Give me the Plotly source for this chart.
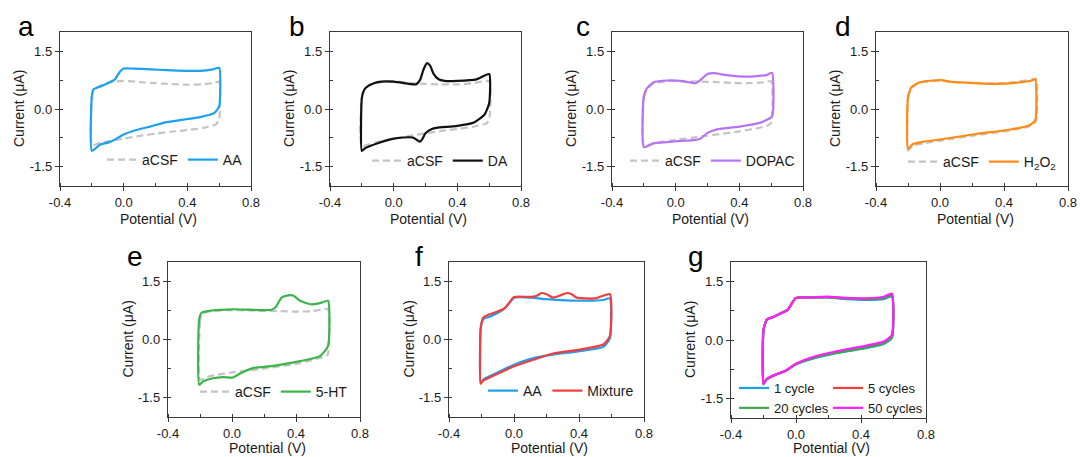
import plotly.graph_objects as go

# ---------------- data ----------------
x_tickvals = [-0.4, 0.0, 0.4, 0.8]
x_ticktext = ["-0.4", "0.0", "0.4", "0.8"]
y_tickvals = [-1.5, 0.0, 1.5]
y_ticktext = ["-1.5", "0.0", "1.5"]
panel_labels = ["a", "b", "c", "d", "e", "f", "g"]
x_title = "Potential (V)"
y_title = "Current (μA)"

# panel a
a_acsf_v = [-0.2, -0.2, -0.19, -0.16, -0.12, -0.06, 0.0, 0.1, 0.2, 0.3, 0.4, 0.5, 0.57, 0.6, 0.6, 0.58, 0.5, 0.4, 0.3, 0.2, 0.1, 0.0, -0.1, -0.15, -0.2]
a_acsf_i = [-0.95, 0.30, 0.48, 0.58, 0.66, 0.71, 0.73, 0.70, 0.67, 0.65, 0.63, 0.64, 0.68, 0.71, -0.27, -0.40, -0.49, -0.55, -0.59, -0.64, -0.70, -0.77, -0.84, -0.88, -0.95]
a_aa_v = [-0.2, -0.2, -0.19, -0.15, -0.09, -0.055, -0.025, 0.0, 0.06, 0.17, 0.27, 0.4, 0.48, 0.56, 0.6, 0.6, 0.57, 0.48, 0.4, 0.27, 0.17, 0.06, 0.0, -0.055, -0.09, -0.15, -0.2]
a_aa_i = [-1.09, 0.33, 0.51, 0.58, 0.69, 0.77, 0.96, 1.05, 1.05, 1.03, 1.01, 0.99, 0.99, 1.03, 1.07, 0.07, -0.10, -0.21, -0.26, -0.34, -0.45, -0.57, -0.66, -0.79, -0.86, -0.93, -1.09]

# panel b
b_acsf_v = [-0.2, -0.2, -0.18, -0.14, -0.08, 0.0, 0.1, 0.2, 0.3, 0.4, 0.5, 0.6, 0.6, 0.58, 0.5, 0.4, 0.3, 0.2, 0.1, 0.0, -0.1, -0.2]
b_acsf_i = [-0.95, 0.30, 0.52, 0.64, 0.70, 0.72, 0.68, 0.65, 0.64, 0.64, 0.67, 0.72, -0.28, -0.38, -0.46, -0.52, -0.57, -0.63, -0.70, -0.77, -0.85, -0.95]
b_da_v = [-0.2, -0.2, -0.185, -0.16, -0.1, 0.0, 0.1, 0.14, 0.165, 0.19, 0.21, 0.23, 0.25, 0.28, 0.32, 0.4, 0.52, 0.6, 0.6, 0.57, 0.5, 0.4, 0.27, 0.24, 0.2, 0.18, 0.165, 0.145, 0.12, 0.06, 0.0, -0.1, -0.18, -0.2]
b_da_i = [-1.09, 0.28, 0.50, 0.60, 0.70, 0.71, 0.65, 0.64, 0.75, 1.05, 1.19, 1.12, 0.92, 0.78, 0.73, 0.73, 0.77, 0.91, 0.15, -0.15, -0.36, -0.44, -0.49, -0.52, -0.63, -0.78, -0.85, -0.80, -0.74, -0.74, -0.77, -0.89, -1.02, -1.09]

# panel c
c_acsf_v = [-0.2, -0.2, -0.18, -0.14, -0.05, 0.05, 0.15, 0.25, 0.35, 0.45, 0.55, 0.6, 0.6, 0.57, 0.5, 0.4, 0.3, 0.2, 0.1, 0.0, -0.1, -0.2]
c_acsf_i = [-0.95, 0.30, 0.52, 0.66, 0.72, 0.72, 0.71, 0.70, 0.68, 0.67, 0.69, 0.72, -0.36, -0.44, -0.51, -0.58, -0.64, -0.69, -0.75, -0.80, -0.86, -0.95]
c_dopac_v = [-0.2, -0.2, -0.18, -0.14, -0.05, 0.03, 0.09, 0.125, 0.155, 0.2, 0.24, 0.32, 0.45, 0.57, 0.605, 0.605, 0.53, 0.41, 0.26, 0.2, 0.155, 0.115, 0.03, -0.05, -0.14, -0.2]
c_dopac_i = [-0.99, 0.33, 0.54, 0.69, 0.74, 0.73, 0.69, 0.67, 0.75, 0.91, 0.93, 0.88, 0.84, 0.88, 0.94, -0.19, -0.36, -0.45, -0.53, -0.62, -0.77, -0.81, -0.83, -0.86, -0.89, -0.99]

# panel d
d_acsf_v = [-0.2, -0.2, -0.18, -0.13, -0.045, 0.02, 0.1, 0.2, 0.35, 0.47, 0.57, 0.6, 0.6, 0.56, 0.43, 0.225, 0.02, -0.1, -0.17, -0.2]
d_acsf_i = [-1.08, 0.28, 0.54, 0.68, 0.73, 0.73, 0.70, 0.68, 0.66, 0.70, 0.76, 0.78, -0.32, -0.45, -0.56, -0.68, -0.81, -0.89, -0.95, -1.08]
d_h2o2_v = [-0.2, -0.2, -0.18, -0.13, -0.045, 0.01, 0.06, 0.18, 0.35, 0.47, 0.575, 0.595, 0.595, 0.555, 0.43, 0.225, 0.02, -0.105, -0.17, -0.2]
d_h2o2_i = [-1.04, 0.30, 0.56, 0.69, 0.74, 0.75, 0.71, 0.68, 0.65, 0.68, 0.74, 0.78, -0.30, -0.43, -0.54, -0.65, -0.78, -0.85, -0.91, -1.04]

# panel e
e_acsf_v = [-0.2, -0.2, -0.19, -0.12, 0.0, 0.1, 0.2, 0.3, 0.4, 0.5, 0.6, 0.6, 0.59, 0.425, 0.22, 0.0, -0.14, -0.2]
e_acsf_i = [-1.04, 0.45, 0.66, 0.74, 0.76, 0.75, 0.74, 0.73, 0.72, 0.73, 0.78, -0.38, -0.42, -0.61, -0.74, -0.85, -0.95, -1.04]
e_5ht_v = [-0.205, -0.205, -0.19, -0.12, 0.0, 0.11, 0.24, 0.27, 0.31, 0.35, 0.385, 0.425, 0.49, 0.55, 0.6, 0.6, 0.55, 0.425, 0.26, 0.13, 0.05, 0.005, -0.055, -0.12, -0.18, -0.205]
e_5ht_i = [-1.17, 0.52, 0.69, 0.75, 0.78, 0.77, 0.76, 0.82, 1.08, 1.14, 1.13, 1.0, 0.91, 0.94, 1.0, -0.17, -0.43, -0.56, -0.68, -0.74, -0.88, -0.98, -0.97, -1.0, -1.08, -1.17]

# panel f
f_aa_v = [-0.205, -0.205, -0.19, -0.15, -0.09, -0.057, -0.026, 0.0, 0.1, 0.2, 0.32, 0.45, 0.55, 0.59, 0.59, 0.55, 0.405, 0.24, 0.12, 0.0, -0.067, -0.13, -0.19, -0.205]
f_aa_i = [-1.13, 0.26, 0.52, 0.59, 0.71, 0.80, 0.95, 1.08, 1.08, 1.04, 1.01, 1.0, 1.02, 1.06, 0.03, -0.19, -0.30, -0.39, -0.48, -0.65, -0.78, -0.91, -1.04, -1.13]
f_mix_v = [-0.205, -0.205, -0.19, -0.15, -0.09, -0.057, -0.026, 0.0, 0.1, 0.14, 0.17, 0.2, 0.24, 0.28, 0.325, 0.355, 0.385, 0.5, 0.59, 0.59, 0.55, 0.405, 0.24, 0.12, 0.0, -0.067, -0.13, -0.19, -0.205]
f_mix_i = [-1.14, 0.30, 0.56, 0.65, 0.74, 0.81, 0.97, 1.10, 1.10, 1.13, 1.20, 1.17, 1.08, 1.13, 1.20, 1.17, 1.08, 1.06, 1.17, 0.09, -0.13, -0.26, -0.36, -0.52, -0.69, -0.82, -0.94, -1.06, -1.14]

# panel g
g_v = [-0.2, -0.2, -0.18, -0.14, -0.08, -0.05, -0.03, 0.0, 0.085, 0.19, 0.31, 0.435, 0.54, 0.59, 0.59, 0.54, 0.4, 0.235, 0.11, 0.0, -0.06, -0.12, -0.18, -0.2]
g_c1_i = [-1.13, 0.26, 0.52, 0.59, 0.71, 0.78, 0.91, 1.08, 1.09, 1.09, 1.05, 1.03, 1.05, 1.11, 0.05, -0.10, -0.23, -0.35, -0.47, -0.62, -0.78, -0.88, -1.0, -1.13]
g_c5_i = [-1.13, 0.26, 0.52, 0.59, 0.71, 0.78, 0.91, 1.08, 1.09, 1.10, 1.07, 1.05, 1.08, 1.15, 0.09, -0.07, -0.20, -0.33, -0.45, -0.61, -0.78, -0.88, -1.0, -1.13]
g_c20_i = [-1.13, 0.26, 0.52, 0.59, 0.71, 0.78, 0.91, 1.08, 1.09, 1.10, 1.06, 1.05, 1.07, 1.14, 0.07, -0.09, -0.22, -0.34, -0.46, -0.62, -0.78, -0.88, -1.0, -1.13]
g_c50_i = [-1.13, 0.26, 0.52, 0.59, 0.71, 0.78, 0.91, 1.08, 1.09, 1.11, 1.08, 1.07, 1.11, 1.19, 0.13, -0.04, -0.17, -0.30, -0.43, -0.61, -0.78, -0.88, -1.0, -1.13]

# ---------------- styling / layout ----------------
W, H = 1080, 457
FONT = "Liberation Sans, Arial, sans-serif"
TXT = "#1a1a1a"
GRAY = "#c4c4c4"

# axis boxes in pixels: left, right, top, bottom
boxes = [
    (60, 251, 32, 186),
    (330, 521, 32, 186),
    (612, 803, 32, 186),
    (876, 1068, 32, 186),
    (168, 360, 262, 417),
    (449, 644, 262, 417),
    (731, 926, 262, 418),
]
# x-axis title centre offset below each box (pixels)
xtitle_off = [33, 33, 33, 33, 31, 31, 30]
# legend box left edge and vertical center (pixels)
legend_pos = [
    (102, 160), (367, 161), (625, 161), (903, 162),
    (195, 392), (483, 391), (734, 398), (828, 398),
]
label_pos = [(26, 26), (297, 26), (583, 26), (843, 26),
             (135, 256), (419, 256), (696, 256)]

fig = go.Figure()


def add(panel, v, i, name, color, dash=None, legend=None, width=2.2):
    k = panel + 1
    fig.add_trace(go.Scatter(
        x=v, y=i, mode="lines", name=name,
        line=dict(color=color, width=width, dash=dash, shape="spline", smoothing=0.5),
        xaxis="x" if k == 1 else f"x{k}", yaxis="y" if k == 1 else f"y{k}",
        legend=legend or ("legend" if k == 1 else f"legend{k}"),
    ))


DASH = "7px,4px"
add(0, a_acsf_v, a_acsf_i, "aCSF", GRAY, DASH)
add(0, a_aa_v, a_aa_i, "AA", "#1ea0f0")
add(1, b_acsf_v, b_acsf_i, "aCSF", GRAY, DASH)
add(1, b_da_v, b_da_i, "DA", "#111111")
add(2, c_acsf_v, c_acsf_i, "aCSF", GRAY, DASH)
add(2, c_dopac_v, c_dopac_i, "DOPAC", "#b673f5")
add(3, d_acsf_v, d_acsf_i, "aCSF", GRAY, DASH)
add(3, d_h2o2_v, d_h2o2_i, "H<sub>2</sub>O<sub>2</sub>", "#ff8a14")
add(4, e_acsf_v, e_acsf_i, "aCSF", GRAY, DASH)
add(4, e_5ht_v, e_5ht_i, "5-HT", "#3cb44b")
add(5, f_aa_v, f_aa_i, "AA", "#1ea0f0")
add(5, f_mix_v, f_mix_i, "Mixture", "#f53c3c")
add(6, g_v, g_c1_i, "1 cycle", "#1ea0f0", legend="legend7")
add(6, g_v, g_c5_i, "5 cycles", "#f53c3c", legend="legend8")
add(6, g_v, g_c20_i, "20 cycles", "#3aa84a", legend="legend7")
add(6, g_v, g_c50_i, "50 cycles", "#ff1eff", legend="legend8")

layout = dict(
    template="none",
    width=W, height=H,
    margin=dict(l=0, r=0, t=0, b=0, autoexpand=False),
    paper_bgcolor="white", plot_bgcolor="white",
    font=dict(family=FONT, color=TXT, size=13),
    showlegend=True,
)

axis_common = dict(
    showgrid=False, zeroline=False, showline=True, mirror=True, automargin=False,
    linecolor="#3a3a3a", linewidth=1.4,
    ticks="outside", ticklen=4, tickwidth=1.2, tickcolor="#3a3a3a",
    tickfont=dict(family=FONT, size=13, color=TXT),
)

annotations = []
for idx, (l, r, t, b) in enumerate(boxes):
    k = idx + 1
    xd = [l / W, r / W]
    yd = [1 - b / H, 1 - t / H]
    xa = dict(axis_common, domain=xd, range=[-0.4, 0.8],
              tickmode="array", tickvals=x_tickvals, ticktext=x_ticktext,
              minor=dict(ticks="inside", ticklen=3, tickwidth=1.1, tickcolor="#3a3a3a", dtick=0.2, tick0=-0.2),
              anchor="y" if k == 1 else f"y{k}")
    ya = dict(axis_common, domain=yd, range=[-2, 2],
              tickmode="array", tickvals=y_tickvals, ticktext=y_ticktext,
              minor=dict(ticks="inside", ticklen=3, tickwidth=1.1, tickcolor="#3a3a3a", dtick=0.75, tick0=0.75),
              anchor="x" if k == 1 else f"x{k}")
    layout["xaxis" if k == 1 else f"xaxis{k}"] = xa
    layout["yaxis" if k == 1 else f"yaxis{k}"] = ya
    # axis titles
    annotations.append(dict(text=x_title, x=((l + r) / 2 + 3) / W, y=1 - (b + xtitle_off[idx]) / H,
                            xref="paper", yref="paper", showarrow=False,
                            xanchor="center", yanchor="middle",
                            font=dict(family=FONT, size=14, color=TXT)))
    annotations.append(dict(text=y_title, x=(l - 41) / W, y=1 - ((t + b) / 2) / H,
                            xref="paper", yref="paper", showarrow=False, textangle=-90,
                            xanchor="center", yanchor="middle",
                            font=dict(family=FONT, size=14, color=TXT)))
    lx, ly = label_pos[idx]
    annotations.append(dict(text=panel_labels[idx], x=lx / W, y=1 - ly / H,
                            xref="paper", yref="paper", showarrow=False,
                            xanchor="center", yanchor="middle",
                            font=dict(family=FONT, size=28, color="#000000")))

for j, (lx, cy) in enumerate(legend_pos):
    key = "legend" if j == 0 else f"legend{j + 1}"
    vertical = j >= 6
    layout[key] = dict(
        x=lx / W, y=1 - cy / H, xref="paper", yref="paper",
        xanchor="left", yanchor="middle", orientation="v" if vertical else "h",
        bgcolor="rgba(0,0,0,0)", borderwidth=0,
        font=dict(family=FONT, size=14 if not vertical else 13, color=TXT),
        itemwidth=30, tracegroupgap=0, itemclick=False,
    )

layout["annotations"] = annotations
fig.update_layout(**layout)

fig.write_html(
    "out.html",
    config={"displayModeBar": False},
    post_script="document.body.style.margin='0';document.body.style.overflow='hidden';",
)
